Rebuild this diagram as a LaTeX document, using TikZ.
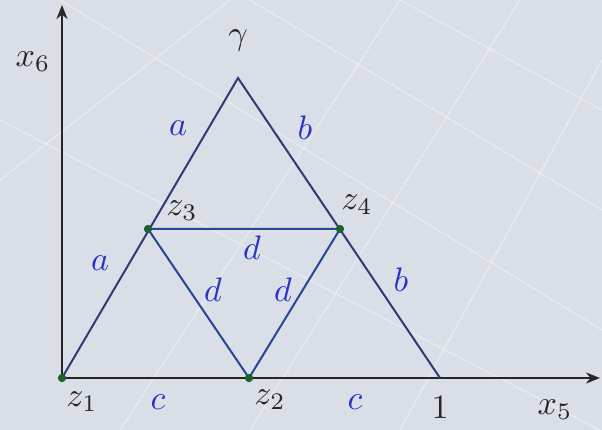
\documentclass[tikz,border=0pt]{standalone}
\usetikzlibrary{arrows.meta}
\definecolor{bg}{RGB}{218,222,230}
\definecolor{outer}{RGB}{55,55,120}
\definecolor{inner}{RGB}{40,70,150}
\definecolor{lab}{RGB}{40,50,195}
\definecolor{dot}{RGB}{25,100,45}
\begin{document}
\begin{tikzpicture}[x=1pt,y=-1pt,
  axis/.style={line width=2pt,draw=black!85,-{Stealth[length=14pt,width=11pt]}},
  outerline/.style={line width=2pt,draw=outer},
  innerline/.style={line width=2pt,draw=inner},
  vtx/.style={circle,fill=dot,inner sep=0pt,minimum size=8pt},
  blab/.style={text=lab,scale=3.4},
  klab/.style={text=black!85,scale=3.4}]
\fill[bg] (0,0) rectangle (602,430);
\useasboundingbox (0,0) rectangle (602,430);
% faint texture lines
\begin{scope}[white,opacity=0.35,line width=1.5pt]
\draw (60,0) -- (602,330);
\draw (250,0) -- (602,210);
\draw (400,0) -- (602,110);
\draw (0,120) -- (600,430);
\draw (400,0) -- (120,430);
\draw (520,0) -- (250,430);
\draw (602,60) -- (400,430);
\draw (230,0) -- (0,180);
\end{scope}
\coordinate (o) at (62,378);
\coordinate (ytip) at (62,5);
\coordinate (xtip) at (600,378);
\node[vtx] (z1) at (62,378) {};
\coordinate (g) at (238,78);
\coordinate (one) at (440,378);
\node[vtx] (z3) at (148,229) {};
\node[vtx] (z4) at (340,229) {};
\node[vtx] (z2) at (249,378) {};
\draw[axis] (o) -- (ytip);
\draw[axis] (o) -- (xtip);
\draw[outerline] (z1.center) -- (g) -- (one);
\draw[innerline] (z3.center) -- (z4.center) -- (z2.center) -- cycle;
\node[vtx] at (z1) {};
\node[vtx] at (z3) {};
\node[vtx] at (z4) {};
\node[vtx] at (z2) {};
% labels
\node[klab] (lg) at (238,40) {$\gamma$};
\node[klab] (lx6) at (33,62) {$x_6$};
\node[klab] (lx5) at (555,410) {$x_5$};
\node[klab] (l1) at (440,408) {$1$};
\node[klab] (lz1) at (82,402) {$z_1$};
\node[klab] (lz2) at (270,400) {$z_2$};
\node[klab] (lz3) at (182,211) {$z_3$};
\node[klab] (lz4) at (357,205) {$z_4$};
\node[blab] (la1) at (178,128) {$a$};
\node[blab] (lb1) at (305,128) {$b$};
\node[blab] (la2) at (100,263) {$a$};
\node[blab] (lb2) at (401,280) {$b$};
\node[blab] (ld1) at (252,248) {$d$};
\node[blab] (ld2) at (213,290) {$d$};
\node[blab] (ld3) at (283,290) {$d$};
\node[blab] (lc1) at (158,402) {$c$};
\node[blab] (lc2) at (355,402) {$c$};
\end{tikzpicture}
\end{document}
